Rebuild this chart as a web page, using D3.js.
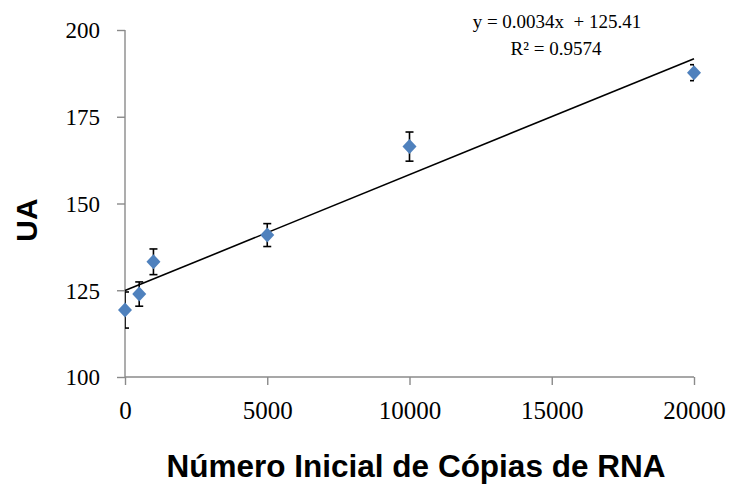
<!DOCTYPE html>
<html>
<head>
<meta charset="utf-8">
<script src="https://cdn.jsdelivr.net/npm/d3@7"></script>
<style>
  html, body { margin: 0; padding: 0; background: #fff; }
  svg { display: block; }
  .serif { font-family: "Liberation Serif", "Times New Roman", serif; }
  .sansb { font-family: "Liberation Sans", Arial, sans-serif; font-weight: bold; }
</style>
</head>
<body>
<svg id="chart" width="730" height="485"></svg>
<script>
// ---- data ----
const copies = [0, 500, 1000, 5000, 10000, 20000];
const uaValues = [119.3, 123.9, 133.2, 140.9, 166.4, 187.7];
const uaErrors = [5.2, 3.5, 3.7, 3.3, 4.2, 2.3];
const xTicks = [0, 5000, 10000, 15000, 20000];
const yTicks = [100, 125, 150, 175, 200];
const equationText = "y = 0.0034x  + 125.41";
const r2Text = "R² = 0.9574";
const xTitle = "Número Inicial de Cópias de RNA";
const yTitle = "UA";

// ---- layout ----
const svg = d3.select("#chart");
const pLeft = 125, pRight = 694, pTop = 30, pBottom = 377;
const x = d3.scaleLinear().domain([0, 20000]).range([pLeft, pRight]);
const y = d3.scaleLinear().domain([100, 200]).range([pBottom, pTop]);
const axisColor = "#8a8a8a";

// clip for error bars (plot area)
svg.append("defs").append("clipPath").attr("id", "plotclip")
  .append("rect").attr("x", pLeft).attr("y", 0).attr("width", pRight - pLeft).attr("height", 485);

// axes
const yAxis = svg.append("g").attr("transform", `translate(${pLeft},0)`)
  .call(d3.axisLeft(y).tickValues(yTicks).tickSize(8).tickFormat(d3.format("d")));
const xAxis = svg.append("g").attr("transform", `translate(0,${pBottom})`)
  .call(d3.axisBottom(x).tickValues(xTicks).tickSize(8).tickFormat(d3.format("d")));
[xAxis, yAxis].forEach(g => {
  g.attr("font-family", null);
  g.select(".domain").attr("stroke", axisColor).attr("stroke-width", 1.4);
  g.selectAll(".tick line").attr("stroke", axisColor).attr("stroke-width", 1.4);
  g.selectAll("text").attr("fill", "#000").attr("class", "serif");
});
yAxis.select(".domain").attr("d", `M0,${pTop}V${pBottom}`);
xAxis.select(".domain").attr("d", `M${pLeft},0H${pRight}`);
yAxis.selectAll("text").style("font-size", "23px").attr("x", -25).attr("dy", "0.34em");
xAxis.selectAll("text").style("font-size", "25px").attr("y", 42).attr("dy", 0);

// trendline from least-squares regression of the data
const n = copies.length;
const mx = d3.mean(copies), my = d3.mean(uaValues);
let sxy = 0, sxx = 0;
for (let i = 0; i < n; i++) { sxy += (copies[i] - mx) * (uaValues[i] - my); sxx += (copies[i] - mx) ** 2; }
const slope = sxy / sxx, intercept = my - slope * mx;
svg.append("line")
  .attr("x1", x(0)).attr("y1", y(intercept))
  .attr("x2", x(20000)).attr("y2", y(intercept + slope * 20000))
  .attr("stroke", "#000").attr("stroke-width", 1.6);

// error bars
const data = copies.map((c, i) => ({ c, v: uaValues[i], e: uaErrors[i] }));
const eb = svg.append("g").attr("clip-path", "url(#plotclip)")
  .attr("stroke", "#000").attr("stroke-width", 1.6);
data.forEach(d => {
  const cx = x(d.c);
  eb.append("line").attr("x1", cx).attr("x2", cx).attr("y1", y(d.v + d.e)).attr("y2", y(d.v - d.e));
  eb.append("line").attr("x1", cx - 4).attr("x2", cx + 4).attr("y1", y(d.v + d.e)).attr("y2", y(d.v + d.e));
  eb.append("line").attr("x1", cx - 4).attr("x2", cx + 4).attr("y1", y(d.v - d.e)).attr("y2", y(d.v - d.e));
});

// markers (diamonds)
svg.append("g").selectAll("path").data(data).join("path")
  .attr("d", d => {
    const cx = x(d.c), cy = y(d.v), rx = 7, ry = 7.5;
    return `M${cx},${cy - ry}L${cx + rx},${cy}L${cx},${cy + ry}L${cx - rx},${cy}Z`;
  })
  .attr("fill", "#4f81bd");

// equation labels
const eq = svg.append("g").attr("class", "serif")
  .style("font-size", "19px").attr("fill", "#000").attr("text-anchor", "middle");
eq.append("text").attr("x", 557).attr("y", 28).style("white-space", "pre").text(equationText);
eq.append("text").attr("x", 556).attr("y", 55).text(r2Text);

// axis titles
svg.append("text").attr("class", "sansb").attr("x", 416).attr("y", 477).attr("text-anchor", "middle")
  .style("font-size", "31.5px").attr("fill", "#000").text(xTitle);
svg.append("text").attr("class", "sansb").attr("transform", "translate(37,220) rotate(-90)").attr("text-anchor", "middle")
  .style("font-size", "30px").attr("fill", "#000").text(yTitle);
</script>
</body>
</html>
